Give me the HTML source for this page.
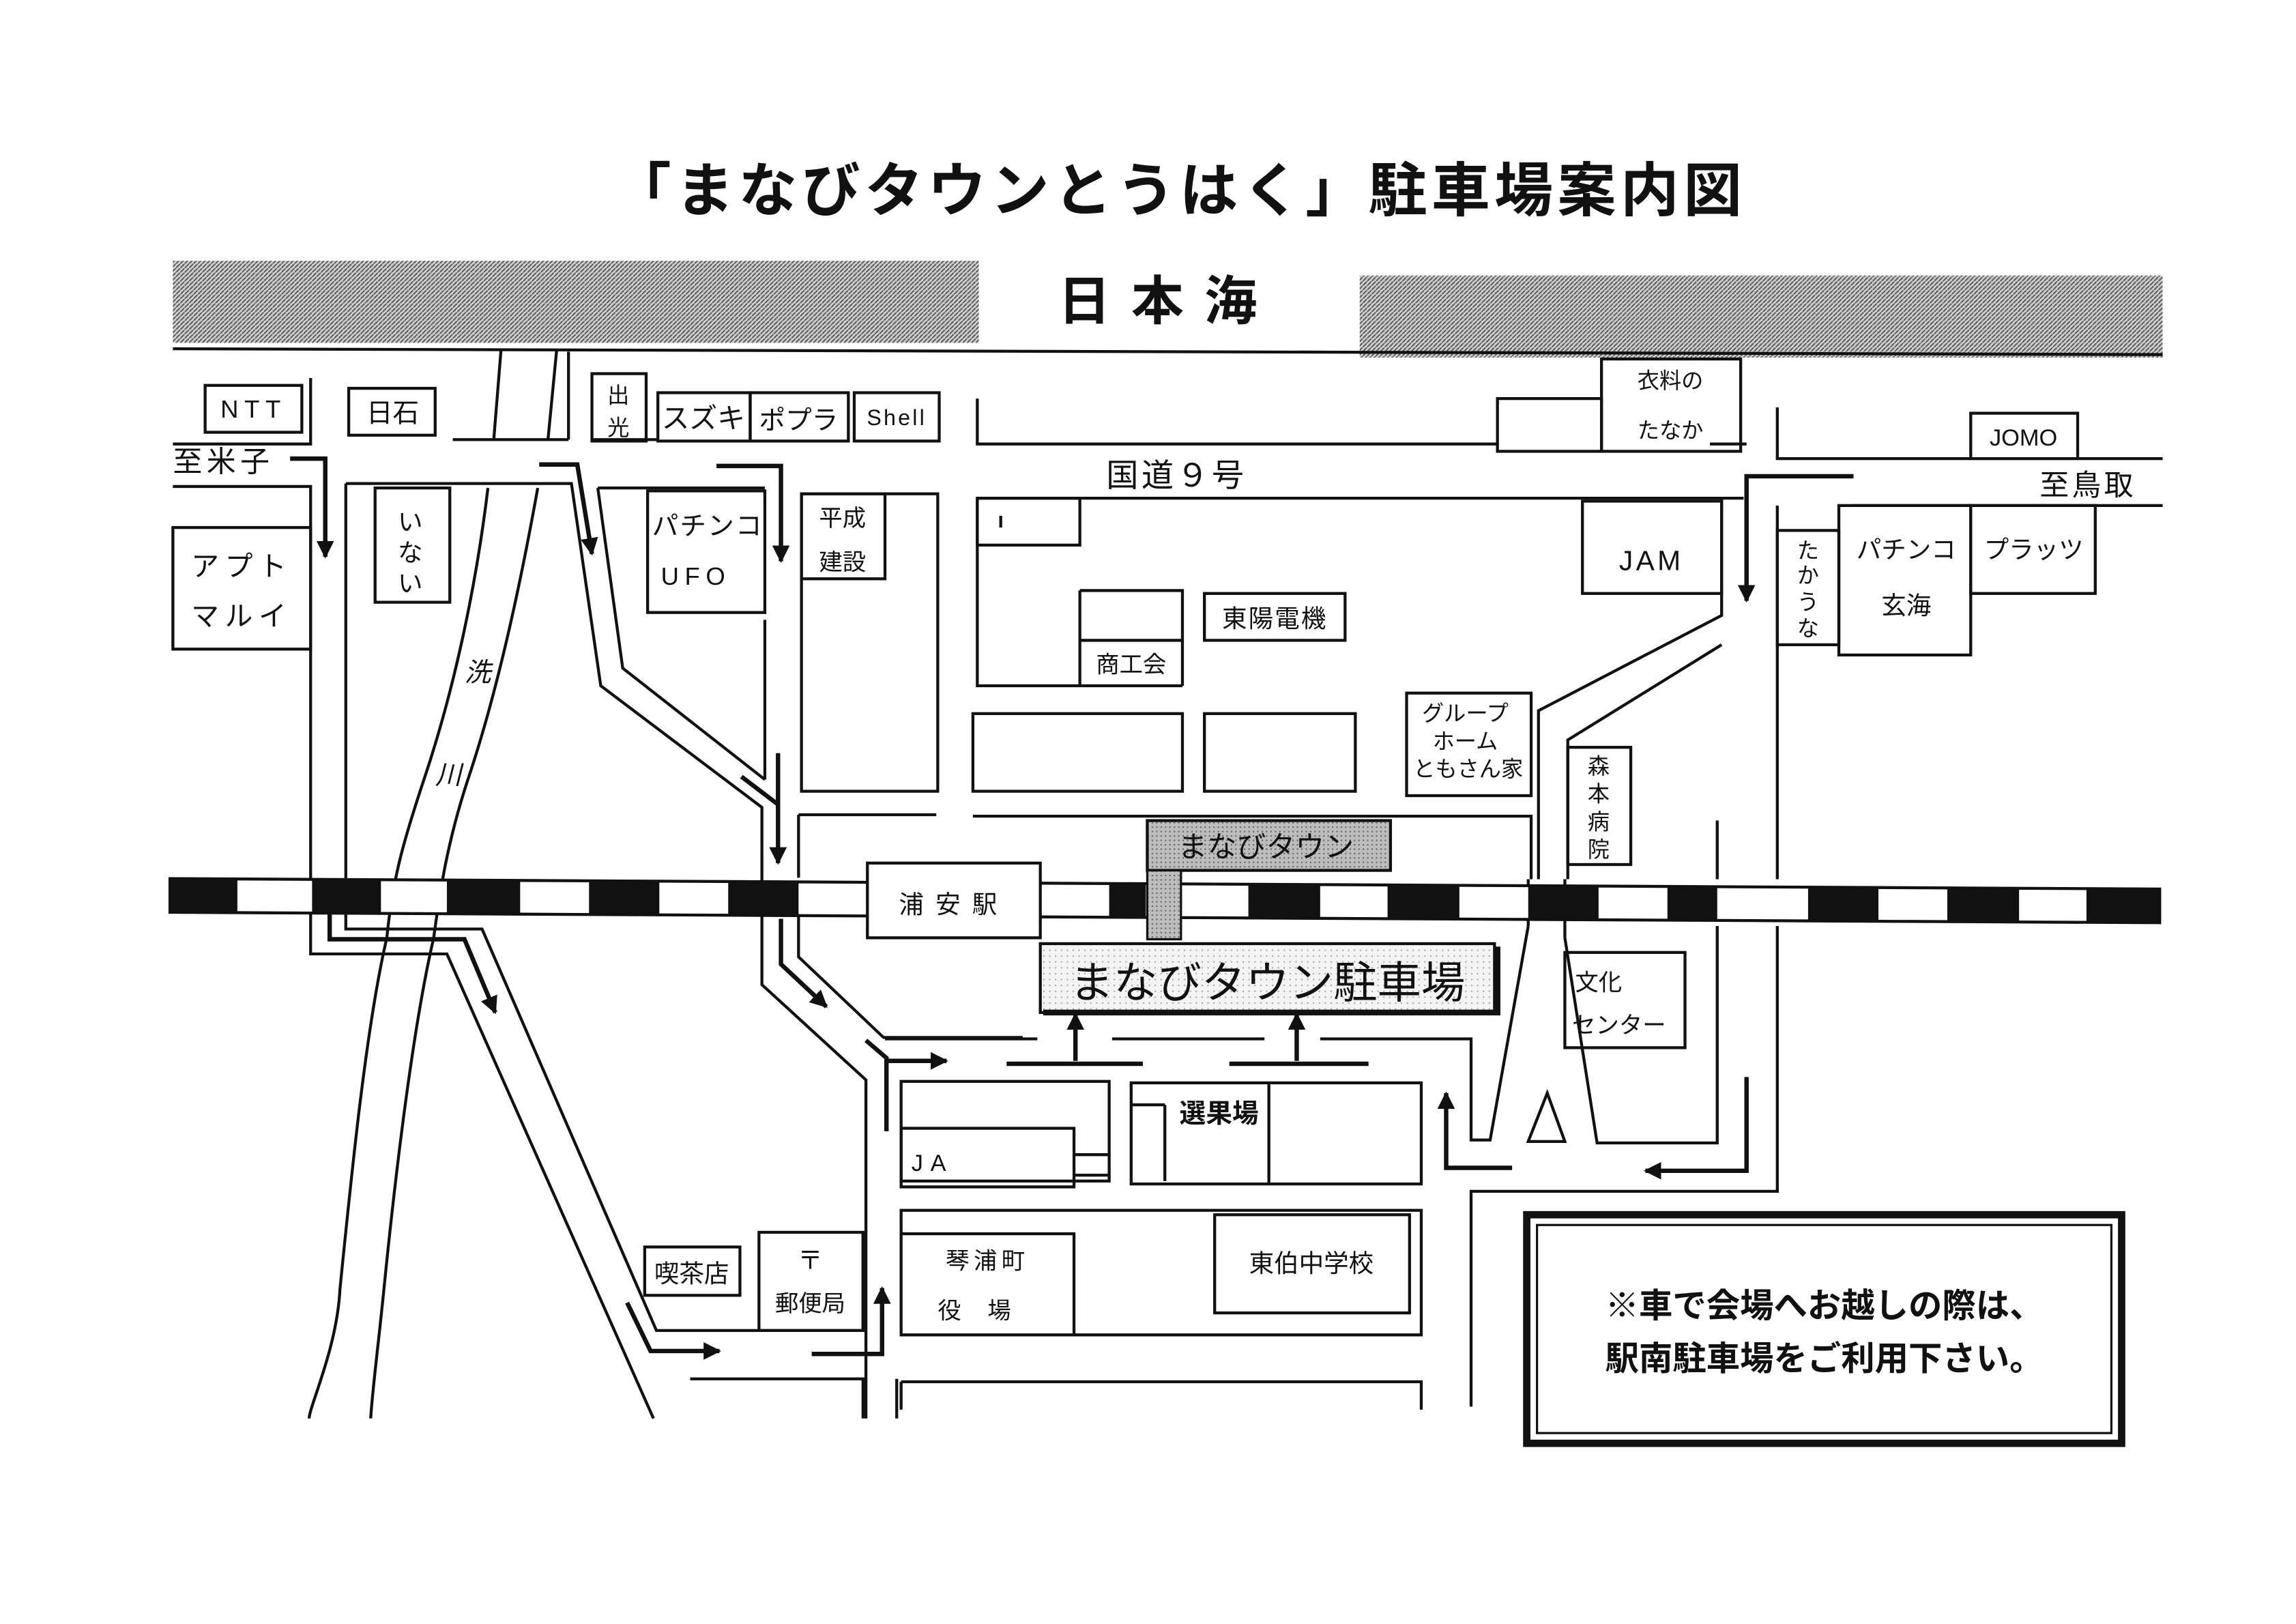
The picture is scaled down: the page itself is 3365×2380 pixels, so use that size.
<!DOCTYPE html>
<html><head><meta charset="utf-8"><style>
html,body{margin:0;padding:0;background:#fff}
svg{display:block}
text{font-family:"Liberation Sans","Noto Sans CJK JP",sans-serif;fill:#111}
</style></head><body>
<svg width="3365" height="2380" viewBox="0 0 1567 1108.3" xmlns="http://www.w3.org/2000/svg">
<defs>
<pattern id="h" width="3" height="3" patternUnits="userSpaceOnUse"><rect width="3" height="3" fill="#d0d0d0"/><path d="M0 3L3 0" stroke="#555" stroke-width="0.9"/></pattern>
<pattern id="g" width="3" height="3" patternUnits="userSpaceOnUse"><rect width="3" height="3" fill="#bdbdbd"/><rect width="1" height="1" fill="#666"/></pattern>
<pattern id="lg" width="4" height="4" patternUnits="userSpaceOnUse"><rect width="4" height="4" fill="#f4f4f4"/><rect width="1" height="1" fill="#aaa"/></pattern>
<marker id="a" viewBox="0 0 10 10" refX="9" refY="5" markerWidth="4" markerHeight="4" orient="auto"><path d="M0 0L10 5L0 10z" fill="#111"/></marker>
</defs>

<text x="805" y="144" font-size="40" text-anchor="middle" letter-spacing="3" font-weight="bold">「まなびタウンとうはく」駐車場案内図</text>

<rect x="118" y="178" width="550" height="56" fill="url(#h)"/>
<rect x="928" y="188" width="548" height="56" fill="url(#h)"/>
<line x1="118" y1="238" x2="1476" y2="242" stroke="#111" stroke-width="2"/>
<text x="797" y="218" font-size="36" text-anchor="middle" letter-spacing="14" font-weight="bold">日本海</text>

<g fill="none" stroke="#111" stroke-width="2">
<rect x="140" y="263" width="66" height="32"/>
<path d="M118 303H212V258"/>
<rect x="238" y="265" width="59" height="32"/>
<rect x="404" y="255" width="37" height="46"/>
<rect x="449" y="268" width="63" height="33"/>
<rect x="512" y="268" width="67" height="33"/>
<rect x="583" y="268" width="58" height="33"/>
<path d="M342 238L337 300M380 238L374 300M388 240V300M309 300H388M404 300H448"/>
<path d="M118 332H212V651H305L446 968"/>
<path d="M236 330V634H329L448 908H589V841"/>
<path d="M236 330H390L410 468L520 551V672L591 737V968"/>
<path d="M408 333L425 456L522 532"/>
<path d="M522 423V532"/>
<path d="M408 333H522"/>
<path d="M545 618V653L603 708H698"/>
<path d="M545 556H639M545 556V599"/>
<rect x="256" y="333" width="51" height="78"/>
<rect x="118" y="360" width="94" height="83"/>
<rect x="442" y="335" width="80" height="83"/>
<rect x="547" y="337" width="57" height="58"/>
<rect x="547" y="337" width="93" height="203"/>
<rect x="440" y="851" width="65" height="33"/>
<rect x="518" y="841" width="71" height="67"/>
<path d="M471 941H589V968M612 941V968"/>
<path d="M333 333C325 400 310 470 290 530C275 575 268 600 264 640C250 700 240 800 232 880C230 920 211 960 211 968"/>
<path d="M367 333C355 400 340 470 320 530C305 575 300 610 296 640C282 700 270 800 262 880C258 920 254 950 253 968"/>

<path d="M667 272V303H1022M1167 303H1192M667 340H1190"/>
<rect x="1022" y="272" width="71" height="36"/>
<rect x="1093" y="245" width="95" height="63"/>
<path d="M1213 278V313H1345M1418 313H1476M1265 345H1476"/>
<rect x="1345" y="282" width="73" height="31"/>
<rect x="667" y="340" width="70" height="32"/>
<path d="M683 352V360"/>
<path d="M667 340V468H807M737 403H807V468M737 403V468M737 437H807"/>
<rect x="822" y="405" width="96" height="32"/>
<rect x="664" y="487" width="143" height="53"/>
<rect x="822" y="487" width="103" height="53"/>
<rect x="960" y="473" width="85" height="70"/>
<path d="M664 557H1045V600"/>
<rect x="1080" y="342" width="95" height="63"/>
<path d="M1175 340V420L1050 485V600M1175 440L1070 505V600"/>
<rect x="1070" y="510" width="43" height="80"/>
<path d="M1213 345V600M1213 632V813H1004V960"/>
<rect x="1213" y="362" width="42" height="78"/>
<rect x="1255" y="345" width="90" height="102"/>
<rect x="1345" y="345" width="85" height="60"/>
<rect x="1068" y="650" width="82" height="65"/>
<path d="M604 709H708M759 709H863M901 709H1004V778H1017L1043 632M1068 640L1090 780H1172V632"/>
<path d="M1043 779H1068L1056 746Z"/>
<path d="M1043 600V632M1068 600V640M1172 560V600"/>
<rect x="615" y="738" width="142" height="68"/>
<rect x="615" y="770" width="118" height="40"/>
<path d="M733 788H757M733 802H757"/>
<rect x="772" y="739" width="198" height="69"/>
<path d="M866 739V808M795 754H772M795 754V806"/>
<path d="M615 826H970V911H615ZM615 842H733V911"/>
<rect x="829" y="829" width="133" height="67"/>
<path d="M615 943H970V962M615 943V962"/>
<rect x="1042" y="829" width="406" height="156" stroke-width="5"/>
<rect x="1049" y="836" width="392" height="142" stroke-width="1.5"/>
</g>

<g transform="skewY(0.3)">
<rect x="116" y="599" width="1358" height="23" fill="#fff" stroke="#111" stroke-width="2"/>
<g fill="#111">
<rect x="116" y="599" width="46" height="23"/><rect x="213" y="599" width="47" height="23"/><rect x="305" y="599" width="50" height="23"/><rect x="402" y="599" width="48" height="23"/><rect x="497" y="599" width="48" height="23"/><rect x="757" y="599" width="25" height="23"/><rect x="852" y="599" width="49" height="23"/><rect x="947" y="599" width="49" height="23"/><rect x="1043" y="599" width="48" height="23"/><rect x="1138" y="599" width="34" height="23"/><rect x="1234" y="599" width="48" height="23"/><rect x="1329" y="599" width="49" height="23"/><rect x="1424" y="599" width="50" height="23"/>
</g></g>
<rect x="592" y="589" width="118" height="51" fill="#fff" stroke="#111" stroke-width="2"/>
<rect x="783" y="560" width="166" height="34" fill="url(#g)" stroke="#111" stroke-width="2"/>
<rect x="783" y="594" width="23" height="47" fill="url(#g)" stroke="#111" stroke-width="1.5"/>
<rect x="710" y="644" width="310" height="47" fill="url(#lg)" stroke="#111" stroke-width="2"/>
<path d="M712 691H1022V646" fill="none" stroke="#111" stroke-width="4"/>

<g fill="none" stroke="#111" stroke-width="3" marker-end="url(#a)">
<path d="M198 313H222V380"/>
<path d="M368 317H394L404 378"/>
<path d="M489 318H533V383"/>
<path d="M531 514V589"/>
<path d="M225 615V641H317L338 691"/>
<path d="M533 627V658L564 687"/>
<path d="M606 724H646"/>
<path d="M428 889L444 922H491"/>
<path d="M554 924H602V879"/>
<path d="M734 724V692"/>
<path d="M885 724V692"/>
<path d="M1032 797H987V746"/>
<path d="M1192 735V799H1123"/>
<path d="M1265 325H1192V410"/>
</g>
<g fill="none" stroke="#111" stroke-width="3">
<path d="M591 710L605 722V772"/>
<path d="M506 530L531 549"/>
<path d="M687 726H780M839 726H934"/>
</g>

<g font-size="17">
<text x="173" y="285" text-anchor="middle" letter-spacing="4">NTT</text>
<text x="268" y="288" text-anchor="middle" font-size="18">日石</text>
<text x="422" y="275" text-anchor="middle" font-size="15">出</text>
<text x="422" y="297" text-anchor="middle" font-size="15">光</text>
<text x="480" y="292" text-anchor="middle" font-size="19">スズキ</text>
<text x="545" y="293" text-anchor="middle" font-size="18">ポプラ</text>
<text x="612" y="290" text-anchor="middle" font-size="15" letter-spacing="1.5">Shell</text>
<text x="118" y="322" font-size="20" letter-spacing="3">至米子</text>
<text x="280" y="362" text-anchor="middle" font-size="17">い</text>
<text x="280" y="383" text-anchor="middle" font-size="17">な</text>
<text x="280" y="404" text-anchor="middle" font-size="17">い</text>
<text x="165" y="393" text-anchor="middle" font-size="19" letter-spacing="4">アプト</text>
<text x="165" y="427" text-anchor="middle" font-size="19" letter-spacing="4">マルイ</text>
<text x="483" y="365" text-anchor="middle" font-size="18" letter-spacing="1">パチンコ</text>
<text x="475" y="399" text-anchor="middle" font-size="17" letter-spacing="4">UFO</text>
<text x="575" y="359" text-anchor="middle" font-size="16">平成</text>
<text x="575" y="389" text-anchor="middle" font-size="16">建設</text>
<text x="326" y="465" font-size="18" font-style="italic" text-anchor="middle">洗</text>
<text x="306" y="535" font-size="18" font-style="italic" text-anchor="middle">川</text>
<text x="803" y="332" text-anchor="middle" font-size="22" letter-spacing="2">国道９号</text>
<text x="1140" y="265" text-anchor="middle" font-size="15">衣料の</text>
<text x="1140" y="299" text-anchor="middle" font-size="15">たなか</text>
<text x="1381" y="304" text-anchor="middle" font-size="16">JOMO</text>
<text x="1425" y="338" text-anchor="middle" font-size="20" letter-spacing="2">至鳥取</text>
<text x="1127" y="389" text-anchor="middle" font-size="19" letter-spacing="2">JAM</text>
<text x="870" y="428" text-anchor="middle" font-size="17" letter-spacing="1">東陽電機</text>
<text x="772" y="459" text-anchor="middle" font-size="16">商工会</text>
<text x="1000" y="492" text-anchor="middle" font-size="15">グループ</text>
<text x="1000" y="511" text-anchor="middle" font-size="15">ホーム</text>
<text x="1002" y="530" text-anchor="middle" font-size="15">ともさん家</text>
<text x="1091" y="528" text-anchor="middle" font-size="15">森</text>
<text x="1091" y="547" text-anchor="middle" font-size="15">本</text>
<text x="1091" y="566" text-anchor="middle" font-size="15">病</text>
<text x="1091" y="585" text-anchor="middle" font-size="15">院</text>
<text x="1234" y="381" text-anchor="middle" font-size="15">た</text>
<text x="1234" y="398" text-anchor="middle" font-size="15">か</text>
<text x="1234" y="416" text-anchor="middle" font-size="15">う</text>
<text x="1234" y="434" text-anchor="middle" font-size="15">な</text>
<text x="1301" y="381" text-anchor="middle" font-size="17">パチンコ</text>
<text x="1301" y="419" text-anchor="middle" font-size="17">玄海</text>
<text x="1388" y="381" text-anchor="middle" font-size="17">プラッツ</text>
<text x="651" y="623" text-anchor="middle" font-size="17" letter-spacing="8">浦安駅</text>
<text x="864" y="585" text-anchor="middle" font-size="20">まなびタウン</text>
<text x="865" y="681" text-anchor="middle" font-size="30">まなびタウン駐車場</text>
<text x="1075" y="676" font-size="16">文化</text>
<text x="1073" y="705" font-size="16">センター</text>
<text x="832" y="766" text-anchor="middle" font-size="18" font-weight="bold">選果場</text>
<text x="622" y="799" font-size="16" letter-spacing="5">JA</text>
<text x="472" y="875" text-anchor="middle" font-size="17">喫茶店</text>
<text x="553" y="866" text-anchor="middle" font-size="17">〒</text>
<text x="553" y="895" text-anchor="middle" font-size="16">郵便局</text>
<text x="674" y="866" text-anchor="middle" font-size="16" letter-spacing="3">琴浦町</text>
<text x="674" y="900" text-anchor="middle" font-size="16" letter-spacing="18">役場</text>
<text x="895" y="868" text-anchor="middle" font-size="17">東伯中学校</text>
<text x="1245" y="899" text-anchor="middle" font-size="23" font-weight="bold">※車で会場へお越しの際は、</text>
<text x="1245" y="935" text-anchor="middle" font-size="23" font-weight="bold">駅南駐車場をご利用下さい。</text>
</g>
</svg>
</body></html>
